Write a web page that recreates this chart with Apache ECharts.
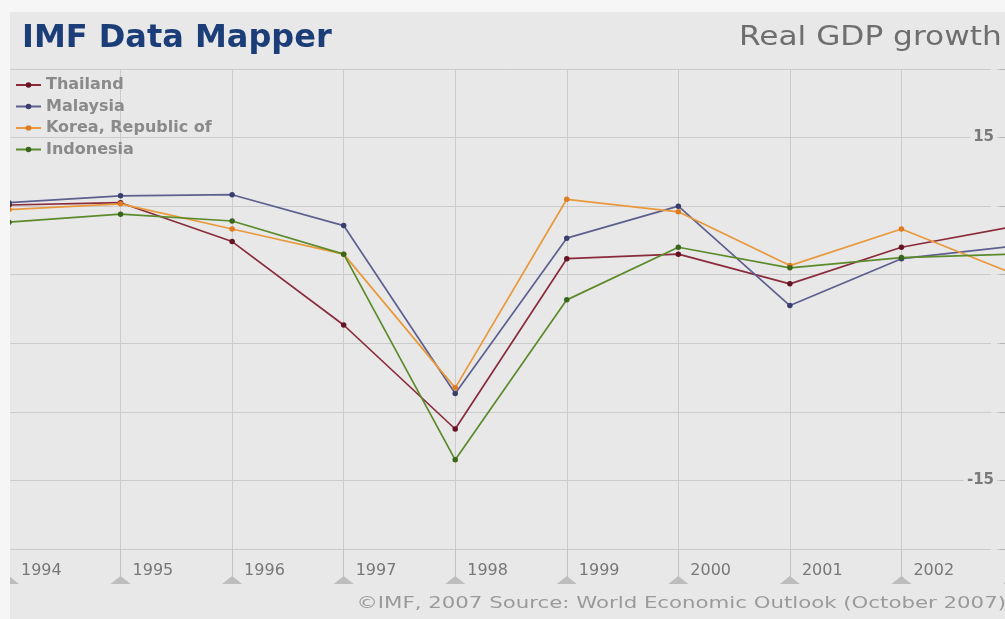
<!DOCTYPE html>
<html>
<head>
<meta charset="utf-8">
<script src="https://cdn.jsdelivr.net/npm/echarts@6/dist/echarts.min.js"></script>
<style>
html,body{margin:0;padding:0;background:#f6f6f6;}
#chart{width:1005px;height:619px;}
</style>
</head>
<body>
<div id="chart"></div>
<script>
// ---- data (Real GDP growth, %) ----
const years = [1994, 1995, 1996, 1997, 1998, 1999, 2000, 2001, 2002, 2003];
const thailand  = [9.1, 9.3, 5.9, -1.4, -10.5, 4.4, 4.8, 2.2, 5.4, 7.2];
const malaysia  = [9.3, 9.9, 10.0, 7.3, -7.4, 6.2, 9.0, 0.3, 4.4, 5.5];
const korea     = [8.7, 9.2, 7.0, 4.8, -6.9, 9.6, 8.5, 3.8, 7.0, 3.1];
const indonesia = [7.6, 8.3, 7.7, 4.8, -13.2, 0.8, 5.4, 3.6, 4.5, 4.8];
const seriesNames = ['Thailand', 'Malaysia', 'Korea, Republic of', 'Indonesia'];
const yTickLabels = [15, -15];
const titleText = 'IMF Data Mapper';
const subtitleText = 'Real GDP growth';
const sourceText = '\u00A9IMF, 2007 Source: World Economic Outlook (October 2007)';

const lineColors = ['#8a2b3b', '#5d5f8e', '#e9993b', '#5b8b2b'];
const dotColors  = ['#641423', '#3b3d6e', '#e07b22', '#3a661a'];
const allValues = [thailand, malaysia, korea, indonesia];

const chart = echarts.init(document.getElementById('chart'), null, {renderer: 'canvas'});
const PANEL = '#e8e8e8';
const GRID = '#cbcbcb';

const series = allValues.map((vals, i) => ({
  name: seriesNames[i],
  type: 'line',
  data: years.map((y, k) => [y, vals[k]]),
  symbol: 'circle',
  symbolSize: 5.5,
  showSymbol: true,
  clip: true,
  lineStyle: {color: lineColors[i], width: 1.7},
  itemStyle: {color: dotColors[i], borderWidth: 0},
  emphasis: {disabled: true}
}));

chart.setOption({
  animation: false,
  backgroundColor: PANEL,
  grid: {left: 9, width: 1004, top: 69, bottom: 70, containLabel: false, outerBoundsMode: 'none'},
  legend: {
    orient: 'vertical',
    left: 15, top: 77, padding: 0,
    itemWidth: 25, itemHeight: 7, itemGap: 5.5,
    data: seriesNames,
    textStyle: {fontFamily: 'DejaVu Sans', fontWeight: 'bold', fontSize: 16, color: '#8a8a8a'},
    selectedMode: false
  },
  xAxis: {
    type: 'value', min: years[0], max: years[years.length - 1], interval: 1,
    axisLine: {show: true, onZero: false, lineStyle: {color: GRID, width: 1}},
    axisTick: {show: true, length: 29, lineStyle: {color: '#c2c2c2', width: 1}},
    splitLine: {show: true, lineStyle: {color: GRID, width: 1}},
    axisLabel: {
      formatter: v => String(v), align: 'left', margin: 14, padding: [0, 0, 0, 12],
      fontFamily: 'DejaVu Sans', fontSize: 16, color: '#777777'
    }
  },
  yAxis: {
    type: 'value', position: 'right', min: -21, max: 21, interval: 6,
    axisLine: {show: false},
    axisTick: {show: true, inside: true, length: 13, lineStyle: {color: '#b4b4b4'}},
    splitLine: {show: true, lineStyle: {color: GRID, width: 1}},
    axisLabel: {
      inside: true, margin: 16,
      formatter: v => (yTickLabels.indexOf(v) >= 0 ? String(v) : ''),
      fontFamily: 'DejaVu Sans', fontWeight: 'bold', fontSize: 15, color: '#7a7a7a',
      backgroundColor: PANEL, padding: [1, 3]
    }
  },
  series: series
});

// decorative triangles at the foot of each year tick, positioned via the axis scale
const yBottom = chart.convertToPixel({yAxisIndex: 0}, -21);
const graphics = [];
years.forEach((yr, k) => {
  const px = chart.convertToPixel({xAxisIndex: 0}, yr);
  graphics.push({
    type: 'polygon', id: 'tri' + k, z: 5,
    shape: {points: [[px, yBottom + 27], [px - 10, yBottom + 35], [px + 10, yBottom + 35]]},
    style: {fill: '#bdbdbd'}
  });
});
// outer frame strips (screenshot border)
graphics.push({type: 'rect', id: 'stripTop', z: 10, shape: {x: 0, y: 0, width: 1005, height: 12}, style: {fill: '#f6f6f6'}});
graphics.push({type: 'rect', id: 'stripLeft', z: 10, shape: {x: 0, y: 0, width: 10, height: 619}, style: {fill: '#f6f6f6'}});
// texts
graphics.push({
  type: 'text', id: 'title', z: 11, x: 22, y: 39,
  style: {text: titleText, fill: '#1b3d78', font: 'bold 32px "DejaVu Sans"', textAlign: 'left', textVerticalAlign: 'middle'}
});
graphics.push({
  type: 'text', id: 'subtitle', z: 11, x: 739, y: 38, scaleX: 1.2,
  style: {text: subtitleText, fill: '#6e6e6e', font: '26px "DejaVu Sans"', textAlign: 'left', textVerticalAlign: 'middle'}
});
graphics.push({
  type: 'text', id: 'source', z: 11, x: 1006, y: 604, scaleX: 1.33,
  style: {text: sourceText, fill: '#9a9a9a', font: '16px "DejaVu Sans"', textAlign: 'right', textVerticalAlign: 'middle'}
});
chart.setOption({graphic: graphics});
</script>
</body>
</html>
